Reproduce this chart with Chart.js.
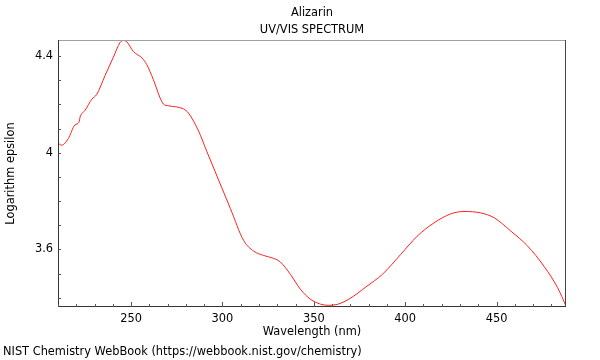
<!DOCTYPE html>
<html>
<head>
<meta charset="utf-8">
<script src="https://cdn.jsdelivr.net/npm/chart.js@4/dist/chart.umd.min.js"></script>
<style>
html,body{margin:0;padding:0;background:#fff;}
#wrap{width:600px;height:360px;position:relative;}
</style>
</head>
<body>
<div id="wrap"><canvas id="c" width="600" height="360"></canvas></div>
<script>
const titleLines = ["Alizarin", "UV/VIS SPECTRUM"];
const footerText = "NIST Chemistry WebBook (https://webbook.nist.gov/chemistry)";
const xTitle = "Wavelength (nm)";
const yTitle = "Logarithm epsilon";

const wavelength = [210, 212, 215.6, 219.3, 221.5, 222.1, 224.8, 228.5, 231.2, 235.8, 240.3, 244, 245.8, 247.7, 251.3, 255.9, 258.6, 262.2, 265.9, 267.7, 270.5, 278.7, 281.4, 286.9, 291.5, 297.9, 304.3, 311.6, 317.1, 322.6, 328, 331.7, 337.2, 342.7, 348.2, 353.6, 358.2, 362.8, 369.1, 379.2, 387.5, 397.5, 406.6, 415.8, 424.9, 432.2, 441.4, 448.7, 457.8, 467, 476.1, 483.4, 488];
const logEpsilon = [4.040, 4.031, 4.058, 4.115, 4.126, 4.148, 4.175, 4.221, 4.241, 4.320, 4.395, 4.456, 4.464, 4.458, 4.418, 4.392, 4.364, 4.302, 4.226, 4.201, 4.194, 4.181, 4.164, 4.090, 4.004, 3.887, 3.770, 3.637, 3.593, 3.575, 3.563, 3.548, 3.497, 3.435, 3.394, 3.374, 3.369, 3.373, 3.394, 3.449, 3.497, 3.579, 3.655, 3.710, 3.747, 3.757, 3.751, 3.731, 3.676, 3.614, 3.529, 3.442, 3.366];

const xMajorLabels = [250, 300, 350, 400, 450];
const yMajorLabels = [3.6, 4, 4.4];

const points = wavelength.map((w, i) => ({x: w, y: logEpsilon[i]}));

const FONT = "'DejaVu Sans', sans-serif";
const FS = 11.4;

const frameTicks = {
  id: 'frameTicks',
  afterDraw(chart) {
    const {ctx, chartArea: a, scales: {x, y}} = chart;
    ctx.save();
    ctx.lineWidth = 1;
    ctx.strokeStyle = '#a0a0a0';
    ctx.beginPath(); ctx.moveTo(a.left, a.top + 0.5); ctx.lineTo(a.right, a.top + 0.5); ctx.stroke();
    ctx.strokeStyle = '#444';
    ctx.beginPath(); ctx.moveTo(a.right - 0.5, a.top); ctx.lineTo(a.right - 0.5, a.bottom); ctx.stroke();
    ctx.strokeStyle = '#333';
    ctx.beginPath();
    ctx.moveTo(a.left + 0.5, a.top); ctx.lineTo(a.left + 0.5, a.bottom - 0.5); ctx.lineTo(a.right, a.bottom - 0.5);
    ctx.stroke();
    ctx.strokeStyle = '#555';
    ctx.beginPath();
    x.ticks.forEach(t => {
      const px = Math.round(x.getPixelForValue(t.value)) + 0.5;
      const major = xMajorLabels.some(v => Math.abs(v - t.value) < 1e-6);
      const len = major ? 5 : 3;
      ctx.moveTo(px, a.bottom); ctx.lineTo(px, a.bottom - len);
    });
    y.ticks.forEach(t => {
      const py = Math.round(y.getPixelForValue(t.value)) + 0.5;
      ctx.moveTo(a.left, py); ctx.lineTo(a.left + 3, py);
    });
    ctx.stroke();
    ctx.restore();
  }
};

new Chart(document.getElementById('c'), {
  type: 'line',
  data: {
    datasets: [{
      data: points,
      borderColor: '#ff2020',
      borderWidth: 1,
      pointRadius: 0,
      fill: false,
      cubicInterpolationMode: 'monotone'
    }]
  },
  options: {
    responsive: false,
    animation: false,
    events: [],
    layout: {padding: {left: 3, right: 34, top: 0, bottom: 0}},
    plugins: {
      legend: {display: false},
      tooltip: {enabled: false},
      title: {
        display: true,
        text: titleLines,
        fullSize: false,
        color: '#000',
        font: {family: FONT, size: FS, weight: 'normal', lineHeight: 1.5},
        padding: {top: 4.5, bottom: 1.3}
      },
      subtitle: {
        display: true,
        text: footerText,
        position: 'bottom',
        align: 'start',
        color: '#000',
        font: {family: FONT, size: FS, weight: 'normal', lineHeight: 1.2},
        padding: {top: 0, bottom: 1}
      }
    },
    scales: {
      x: {
        type: 'linear',
        min: 210,
        max: 488,
        afterFit(s) { s.height = 38.3; },
        grid: {display: false, drawTicks: false},
        border: {display: false},
        ticks: {
          stepSize: 10,
          includeBounds: false,
          autoSkip: false,
          maxRotation: 0,
          padding: 5,
          color: '#000',
          font: {family: FONT, size: FS},
          callback: (v) => xMajorLabels.some(m => Math.abs(m - v) < 1e-6) ? String(Math.round(v)) : ''
        },
        title: {
          display: true,
          text: xTitle,
          color: '#000',
          font: {family: FONT, size: FS},
          padding: {top: 0, bottom: 6.5}
        }
      },
      y: {
        type: 'linear',
        min: 3.362,
        max: 4.466,
        afterFit(s) { s.width = 55; },
        grid: {display: false, drawTicks: false},
        border: {display: false},
        ticks: {
          stepSize: 0.1,
          includeBounds: false,
          autoSkip: false,
          padding: 5,
          color: '#000',
          font: {family: FONT, size: FS},
          callback: (v) => {
            const m = yMajorLabels.find(t => Math.abs(t - v) < 1e-6);
            return m !== undefined ? String(m) : '';
          }
        },
        title: {
          display: true,
          text: yTitle,
          color: '#000',
          font: {family: FONT, size: FS},
          padding: {top: 1, bottom: 0}
        }
      }
    }
  },
  plugins: [frameTicks]
});
</script>
</body>
</html>
